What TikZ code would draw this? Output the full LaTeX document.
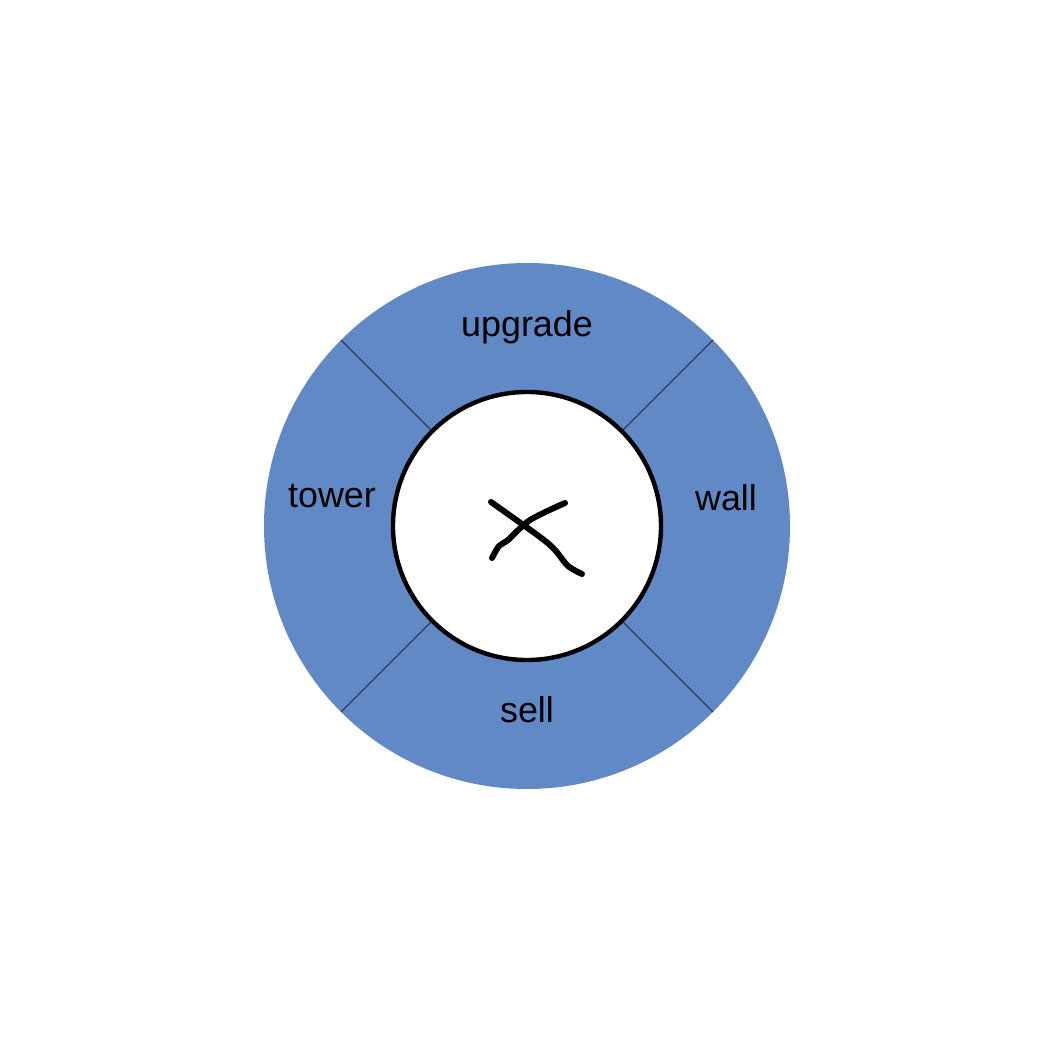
\documentclass[tikz,border=0pt]{standalone}
\usepackage{fontspec}
\setmainfont{Liberation Sans}
\usetikzlibrary{positioning}
\definecolor{ringblue}{RGB}{97,137,197}
\definecolor{divider}{RGB}{40,60,90}

\begin{document}
\begin{tikzpicture}[
    ring/.style={fill=ringblue, even odd rule},
    hub/.style={draw, fill=white, line width=1.25pt},
    divline/.style={draw=divider, line width=0.35pt},
    label/.style={font=\fontsize{10.2}{12}\selectfont, inner sep=0pt},
    cross/.style={line width=1.7pt, line cap=round, line join=round}
]
\useasboundingbox (-5.27,-5.27) rectangle (5.26,5.26);
\fill[ring] (0,0) circle (2.63) (0,0) circle (1.34);
\foreach \a in {45,135,225,315}
    \draw[divline] (\a:1.34) -- (\a:2.63);
\draw[hub] (0,0) circle (1.34);
\node[label] (upgrade) at (0,1.99) {upgrade};
\node[label] (tower) at (-1.95,0.3) {tower};
\node[label] (wall) at (1.99,0.28) {wall};
\node[label] (sell) at (0,-1.84) {sell};
% hand drawn cross
\draw[cross] plot[smooth] coordinates {(-0.36,0.24) (0.13,-0.11) (0.28,-0.24) (0.41,-0.40) (0.55,-0.48)};
\draw[cross] plot[smooth] coordinates {(0.38,0.23) (0.03,0.06) (-0.19,-0.14) (-0.28,-0.20) (-0.35,-0.32)};
\end{tikzpicture}
\end{document}
